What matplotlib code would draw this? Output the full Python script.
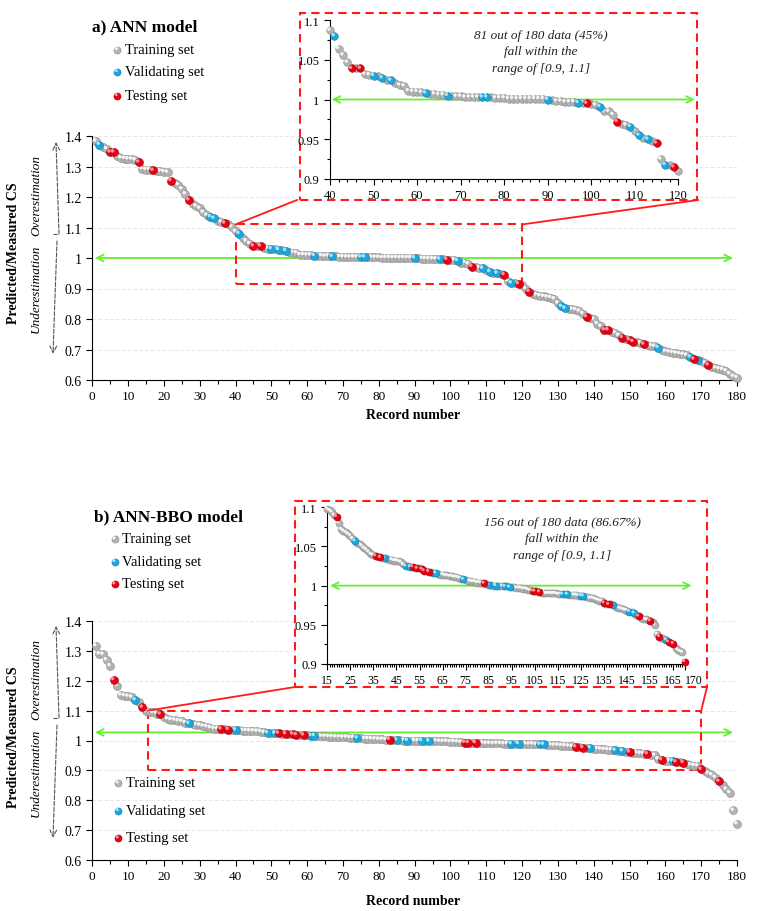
import matplotlib
matplotlib.use('Agg')
import matplotlib.pyplot as plt
import numpy as np
from matplotlib import transforms
from matplotlib.patches import Rectangle

plt.rcParams['font.family'] = ['Liberation Serif', 'DejaVu Serif']

# ---- data: predicted/measured CS ratio per record (1..180), sorted
ratio_a = [
    1.383, 1.372, 1.365, 1.358, 1.347, 1.347, 1.333, 1.328, 1.326, 1.325,
    1.324, 1.322, 1.314, 1.292, 1.290, 1.290, 1.287, 1.286, 1.285, 1.283,
    1.281, 1.254, 1.246, 1.240, 1.226, 1.210, 1.190, 1.176, 1.170, 1.163,
    1.150, 1.140, 1.135, 1.130, 1.121, 1.118, 1.114, 1.110, 1.102, 1.087,
    1.080, 1.064, 1.056, 1.047, 1.039, 1.039, 1.039, 1.032, 1.031, 1.030,
    1.029, 1.027, 1.025, 1.024, 1.021, 1.018, 1.017, 1.011, 1.010, 1.010,
    1.009, 1.008, 1.007, 1.007, 1.006, 1.006, 1.005, 1.005, 1.004, 1.004,
    1.003, 1.003, 1.003, 1.003, 1.003, 1.003, 1.003, 1.002, 1.002, 1.002,
    1.001, 1.001, 1.001, 1.001, 1.001, 1.001, 1.001, 1.001, 1.001, 1.000,
    0.999, 0.998, 0.998, 0.997, 0.997, 0.997, 0.996, 0.996, 0.995, 0.994,
    0.993, 0.991, 0.985, 0.985, 0.981, 0.972, 0.969, 0.968, 0.966, 0.961,
    0.955, 0.951, 0.950, 0.948, 0.945, 0.925, 0.918, 0.917, 0.915, 0.910,
    0.900, 0.890, 0.882, 0.879, 0.876, 0.874, 0.872, 0.870, 0.866, 0.852,
    0.841, 0.835, 0.834, 0.832, 0.830, 0.826, 0.818, 0.807, 0.803, 0.799,
    0.785, 0.776, 0.764, 0.764, 0.758, 0.755, 0.746, 0.739, 0.736, 0.731,
    0.726, 0.724, 0.721, 0.717, 0.714, 0.712, 0.710, 0.706, 0.697, 0.694,
    0.692, 0.690, 0.688, 0.686, 0.684, 0.681, 0.675, 0.668, 0.667, 0.662,
    0.656, 0.649, 0.642, 0.639, 0.637, 0.634, 0.630, 0.620, 0.612, 0.608,
]
valid_a = [2, 33, 34, 41, 50, 52, 54, 62, 67, 75, 76, 90, 97, 102, 109, 111,
           113, 117, 131, 132, 158, 167, 169]
test_a = [5, 6, 13, 17, 22, 27, 37, 45, 47, 99, 106, 115, 119, 122, 138, 143,
          144, 148, 150, 151, 154, 168, 172]

ratio_b = [
    1.317, 1.290, 1.288, 1.270, 1.250, 1.203, 1.184, 1.152, 1.150, 1.148,
    1.145, 1.136, 1.128, 1.111, 1.098, 1.096, 1.094, 1.090, 1.088, 1.080,
    1.072, 1.070, 1.068, 1.066, 1.064, 1.060, 1.057, 1.055, 1.053, 1.051,
    1.048, 1.046, 1.043, 1.040, 1.039, 1.038, 1.037, 1.036, 1.035, 1.035,
    1.034, 1.033, 1.033, 1.032, 1.032, 1.031, 1.030, 1.027, 1.025, 1.025,
    1.024, 1.024, 1.023, 1.022, 1.022, 1.021, 1.019, 1.019, 1.018, 1.017,
    1.016, 1.016, 1.015, 1.014, 1.014, 1.013, 1.013, 1.012, 1.012, 1.011,
    1.011, 1.010, 1.009, 1.008, 1.007, 1.006, 1.006, 1.005, 1.005, 1.004,
    1.004, 1.003, 1.003, 1.002, 1.001, 1.001, 1.000, 1.000, 1.000, 0.999,
    0.999, 0.999, 0.999, 0.998, 0.998, 0.998, 0.997, 0.997, 0.997, 0.996,
    0.996, 0.995, 0.994, 0.993, 0.993, 0.993, 0.992, 0.991, 0.991, 0.990,
    0.990, 0.990, 0.990, 0.990, 0.989, 0.989, 0.989, 0.989, 0.989, 0.988,
    0.988, 0.988, 0.988, 0.987, 0.987, 0.987, 0.986, 0.985, 0.984, 0.984,
    0.983, 0.982, 0.981, 0.980, 0.978, 0.977, 0.976, 0.976, 0.975, 0.973,
    0.972, 0.971, 0.970, 0.969, 0.968, 0.967, 0.966, 0.965, 0.963, 0.961,
    0.959, 0.958, 0.957, 0.956, 0.955, 0.953, 0.950, 0.938, 0.935, 0.933,
    0.932, 0.931, 0.928, 0.927, 0.926, 0.921, 0.918, 0.916, 0.915, 0.903,
    0.897, 0.890, 0.885, 0.876, 0.863, 0.851, 0.837, 0.825, 0.766, 0.721,
]
valid_b = [12, 27, 40, 49, 51, 61, 62, 74, 85, 88, 92, 94, 117, 119, 125, 126,
           139, 146, 148, 162]
test_b = [6, 14, 19, 36, 38, 52, 54, 56, 57, 59, 83, 104, 105, 107, 135, 137,
          150, 155, 159, 163, 165, 170, 175]

set_names = ['Training set', 'Validating set', 'Testing set']
# base, edge, highlight
set_colors = [('#b3b3b3', '#8a8a8a', '#f4f4f4'),
              ('#1ea5dc', '#0d7cab', '#a0e6fc'),
              ('#e60012', '#a8000a', '#ff9090')]
RED = '#ff1a1a'
GREEN = '#66ee33'

W, H = 759, 912
fig = plt.figure(figsize=(W / 100, H / 100), dpi=100)


def px_axes(l, r, t, b, z=0):
    return fig.add_axes([l / W, 1 - b / H, (r - l) / W, (b - t) / H], zorder=z)


ax_a = px_axes(92.3, 737, 137, 381)
ax_b = px_axes(92.3, 737, 622, 861)
in_a = px_axes(330, 678.3, 21, 180, z=2)
in_b = px_axes(327.3, 684.8, 508.3, 665, z=2)
ov = fig.add_axes([0, 0, 1, 1], zorder=3)
ov.set_xlim(0, W)
ov.set_ylim(H, 0)
ov.axis('off')


def balls(ax, x, y, cols, s, z=3):
    base, edge, hi = cols
    ax.scatter(x, y, s=s, c=base, edgecolors=edge, linewidths=0.4, zorder=z, clip_on=False)
    r = np.sqrt(s) * 0.16 / 72
    off = transforms.ScaledTranslation(-r, r, fig.dpi_scale_trans)
    ax.scatter(x, y, s=s * 0.2, c=hi, edgecolors='none', zorder=z + 0.05,
               transform=ax.transData + off, clip_on=False)


def draw_sets(ax, ratio, valid, test, s, lo=0, hi=181):
    rec = np.arange(1, len(ratio) + 1)
    r = np.array(ratio)
    kind = np.zeros(len(r), int)
    kind[np.array(valid) - 1] = 1
    kind[np.array(test) - 1] = 2
    keep = (rec >= lo) & (rec <= hi)
    for k in range(3):
        m = keep & (kind == k)
        balls(ax, rec[m], r[m], set_colors[k], s, z=3 + k * 0.2)


def style_main(ax):
    ax.set_xlim(0, 180)
    ax.set_ylim(0.6, 1.4)
    ax.set_xticks(range(0, 181, 10))
    ax.set_xticks(range(0, 181, 5), minor=True)
    ax.set_yticks(np.arange(0.6, 1.41, 0.1))
    ax.yaxis.set_major_formatter(plt.FuncFormatter(lambda v, p: f'{v:g}'))
    for sp in ['top', 'right']:
        ax.spines[sp].set_visible(False)
    for sp in ['left', 'bottom']:
        ax.spines[sp].set_linewidth(0.8)
    ax.tick_params(axis='x', labelsize=9.5, direction='out', length=4, width=0.8)
    ax.tick_params(axis='x', which='minor', direction='out', length=3, width=0.8)
    ax.tick_params(axis='y', labelsize=10, direction='out', length=4, width=0.8)
    ax.yaxis.grid(True, color='#e6e6e6', ls=(0, (4, 2)), lw=0.7)
    ax.set_axisbelow(True)
    ax.patch.set_alpha(0)


def style_inset(ax, lo, hi):
    ax.set_xlim(lo, hi)
    ax.set_ylim(0.9, 1.1)
    ax.set_yticks([0.9, 0.95, 1.0, 1.05, 1.1])
    ax.set_yticks(np.arange(0.9, 1.101, 0.025), minor=True)
    ax.yaxis.set_major_formatter(plt.FuncFormatter(lambda v, p: f'{v:g}'))
    for sp in ['top', 'right']:
        ax.spines[sp].set_visible(False)
    for sp in ['left', 'bottom']:
        ax.spines[sp].set_linewidth(0.8)
    ax.tick_params(which='both', direction='out', width=0.8, labelsize=9)
    ax.tick_params(which='major', length=4)
    ax.tick_params(which='minor', length=2.5)
    ax.patch.set_alpha(0)


def green_arrow(ax, x0, x1, y):
    ax.annotate('', xy=(x0, y), xytext=(x1, y), annotation_clip=False,
                arrowprops=dict(arrowstyle='<->', color=GREEN, lw=1.3,
                                mutation_scale=12, shrinkA=0, shrinkB=0), zorder=2)


def to_ov(ax, x, y):
    return ov.transData.inverted().transform(ax.transData.transform((x, y)))


# ---- main panels
for ax, ratio, valid, test in [(ax_a, ratio_a, valid_a, test_a),
                               (ax_b, ratio_b, valid_b, test_b)]:
    style_main(ax)
    draw_sets(ax, ratio, valid, test, s=33)

green_arrow(ax_a, 0.75, 178.9, 1.0)
green_arrow(ax_b, 0.75, 178.9, 1.027)

ax_a.add_patch(Rectangle((40, 0.915), 80, 0.195, fill=False, ec=RED,
                         ls=(0, (4, 2.5)), lw=1.5, zorder=2.5))
ax_b.add_patch(Rectangle((15.5, 0.9), 154.5, 0.2, fill=False, ec=RED,
                         ls=(0, (4, 2.5)), lw=1.5, zorder=2.5))

# ---- insets
style_inset(in_a, 40, 120)
in_a.set_xticks(range(40, 121, 10))
in_a.set_xticks(range(40, 121, 2), minor=True)
draw_sets(in_a, ratio_a, valid_a, test_a, s=30, lo=40, hi=120)
green_arrow(in_a, 40.4, 123.8, 1.0)

style_inset(in_b, 15, 170)
in_b.set_xticks(list(range(15, 166, 10)) + [170])
in_b.set_xticks(range(15, 171, 1), minor=True)
in_b.tick_params(axis='x', labelsize=8.5)
in_b.xaxis.get_major_ticks()[-1].label1.set_horizontalalignment('left')
draw_sets(in_b, ratio_b, valid_b, test_b, s=26, lo=15, hi=170)
green_arrow(in_b, 16.2, 173, 1.0)

# inset frames (white fill hides the main grid behind)
for (l, t, r, b) in [(300, 14, 697, 201), (295, 502, 707, 688)]:
    fig.add_artist(Rectangle((l / W, 1 - b / H), (r - l) / W, (b - t) / H,
                             transform=fig.transFigure, fc='white', ec=RED,
                             ls=(0, (4, 2.5)), lw=1.5, zorder=1))

# connector lines
for ax, (xa, ya), (xb, yb), box in [(ax_a, (40, 1.11), (120, 1.11), (297, 698, 201)),
                                    (ax_b, (15.5, 1.1), (170, 1.1), (295, 707, 688))]:
    p0 = to_ov(ax, xa, ya)
    p1 = to_ov(ax, xb, yb)
    ov.plot([p0[0], box[0]], [p0[1], box[2]], color=RED, lw=1.3)
    ov.plot([p1[0], box[1]], [p1[1], box[2]], color=RED, lw=1.3)

# ---- annotations inside insets
ov.text(541, 52.5, '81 out of 180 data (45%)\nfall within the\nrange of [0.9, 1.1]',
        ha='center', va='center', style='italic', fontsize=9.5, linespacing=1.55, color='#222222')
ov.text(562, 539.5, '156 out of 180 data (86.67%)\nfall within the\nrange of [0.9, 1.1]',
        ha='center', va='center', style='italic', fontsize=9.5, linespacing=1.55, color='#222222')

# ---- titles and legends
ov.text(92.5, 27, 'a) ANN model', weight='bold', fontsize=12.5, va='center')
ov.text(94, 517, 'b) ANN-BBO model', weight='bold', fontsize=12.5, va='center')


def legend_at(x, ys):
    for k, y in enumerate(ys):
        balls(ov, [x], [y], set_colors[k], s=26, z=5)
        ov.text(x + 7.5, y, set_names[k], fontsize=10.5, va='center')


legend_at(117.3, [50.7, 72.7, 96.7])
legend_at(115, [540, 562.7, 585])
legend_at(118.3, [784, 811.7, 839])

# ---- axis labels
for dy in [0, 484]:
    ov.text(14, 253 + dy, 'Predicted/Measured CS', rotation=90, weight='bold',
            fontsize=10, ha='center', va='center')
    ov.text(36, 196 + dy, 'Overestimation', rotation=90, style='italic',
            fontsize=9.5, ha='center', va='center')
    ov.text(36, 289 + dy, 'Underestimation', rotation=90, style='italic',
            fontsize=9.5, ha='center', va='center')
    ov.annotate('', xy=(56, 143 + dy), xytext=(59, 235 + dy),
                arrowprops=dict(arrowstyle='->', ls='--', lw=0.8, color='#555555',
                                shrinkA=0, shrinkB=0, mutation_scale=12))
    ov.plot([53, 59], [235 + dy, 235 + dy], color='#555555', lw=0.8, ls='--')
    ov.annotate('', xy=(53, 355 + dy), xytext=(57, 242 + dy),
                arrowprops=dict(arrowstyle='->', ls='--', lw=0.8, color='#555555',
                                shrinkA=0, shrinkB=0, mutation_scale=12))

ov.text(413, 416, 'Record number', weight='bold', fontsize=10, ha='center', va='center')
ov.text(413, 902, 'Record number', weight='bold', fontsize=10, ha='center', va='center')

fig.savefig('out.png', dpi=100)
